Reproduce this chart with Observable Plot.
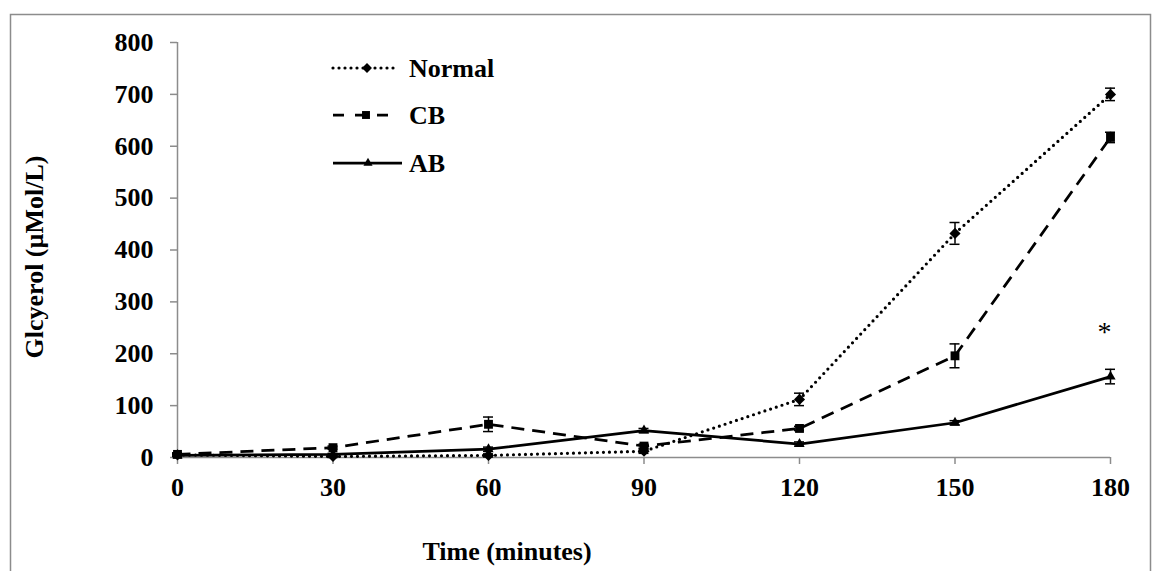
<!DOCTYPE html>
<html>
<head>
<meta charset="utf-8">
<script src="https://cdn.jsdelivr.net/npm/d3@7"></script>
<script src="https://cdn.jsdelivr.net/npm/@observablehq/plot@0.6"></script>
<style>
  html, body { margin: 0; padding: 0; background: #fff; }
  #chart { width: 1152px; height: 571px; }
</style>
</head>
<body>
<div id="chart"></div>
<script>
// ---- data ----
const times = [0, 30, 60, 90, 120, 150, 180];
const normal = [5, 2, 4, 12, 112, 432, 700];
const cb = [6, 19, 64, 22, 56, 196, 617];
const ab = [4, 6, 16, 52, 26, 67, 156];
const normalErr = [3, 2, 3, 4, 12, 21, 12];
const cbErr = [3, 3, 14, 4, 4, 23, 10];
const abErr = [2, 2, 4, 4, 4, 4, 14];
const seriesNames = ["Normal", "CB", "AB"];
const xTicks = [0, 30, 60, 90, 120, 150, 180];
const yTicks = [0, 100, 200, 300, 400, 500, 600, 700, 800];
const starPoint = [{t: 180, v: 252, label: "*"}];
const yTitle = "Glcyerol (\u00b5Mol/L)";
const xTitle = "Time (minutes)";

// ---- styles ----
const styles = {
  Normal: {dash: "0 6", cap: "round", width: 3.2, symbol: "diamond2", r: 5, d3sym: d3.symbolDiamond2},
  CB: {dash: "13 8", cap: "butt", width: 2.75, symbol: "square", r: 5, d3sym: d3.symbolSquare},
  AB: {dash: null, cap: "butt", width: 2.75, symbol: "triangle", r: 3.8, d3sym: d3.symbolTriangle}
};

const valuesBy = {Normal: normal, CB: cb, AB: ab};
const errBy = {Normal: normalErr, CB: cbErr, AB: abErr};
const rows = {};
for (const s of seriesNames) {
  rows[s] = times.map((t, i) => ({
    t, v: valuesBy[s][i],
    lo: valuesBy[s][i] - errBy[s][i],
    hi: valuesBy[s][i] + errBy[s][i]
  }));
}

const FONT = "'Liberation Serif', 'Times New Roman', serif";
const AXIS = "#8c8c8c";

const marks = [
  Plot.ruleY([0], {stroke: AXIS, strokeWidth: 1.5}),
  Plot.ruleX([0], {stroke: AXIS, strokeWidth: 1.5}),
  Plot.axisX({ticks: xTicks, tickSize: 7, tickPadding: 13, stroke: AXIS, strokeWidth: 1.5,
    fill: "black", fontSize: 26, fontWeight: "bold", tickFormat: d => String(d), label: null}),
  Plot.axisY({ticks: yTicks, tickSize: 7, tickPadding: 17, stroke: AXIS, strokeWidth: 1.5,
    fill: "black", fontSize: 26, fontWeight: "bold", tickFormat: d => String(d), label: null})
];

for (const s of seriesNames) {
  const st = styles[s];
  marks.push(Plot.line(rows[s], {x: "t", y: "v", stroke: "black", strokeWidth: st.width,
    strokeDasharray: st.dash || undefined, strokeLinecap: st.cap, strokeLinejoin: "round"}));
}
for (const s of seriesNames) {
  marks.push(Plot.ruleX(rows[s], {x: "t", y1: "lo", y2: "hi", stroke: "black", strokeWidth: 1.5}));
  marks.push(Plot.ruleY(rows[s], {y: "lo", x1: "t", x2: "t", insetLeft: -5, insetRight: -5, stroke: "black", strokeWidth: 1.5}));
  marks.push(Plot.ruleY(rows[s], {y: "hi", x1: "t", x2: "t", insetLeft: -5, insetRight: -5, stroke: "black", strokeWidth: 1.5}));
}
for (const s of seriesNames) {
  const st = styles[s];
  marks.push(Plot.dot(rows[s], {x: "t", y: "v", symbol: st.symbol, r: st.r, fill: "black", stroke: "none"}));
}
marks.push(Plot.text(starPoint, {x: "t", y: "v", text: "label", fontSize: 28, fontWeight: "normal",
  fill: "black", dx: -6, dy: 5, fontFamily: FONT}));

const chart = Plot.plot({
  width: 1152,
  height: 571,
  marginLeft: 177,
  marginRight: 42,
  marginTop: 42,
  marginBottom: 114,
  style: {fontFamily: FONT, fontSize: "26px", fontWeight: "bold", color: "black", background: "white", overflow: "visible"},
  x: {domain: [0, 180], label: null},
  y: {domain: [0, 800], label: null},
  marks
});

const svg = d3.select(chart);

// outer border (top, left, right)
svg.insert("path", ":first-child")
  .attr("d", "M10.5,571 V14.5 H1150.5 V571")
  .attr("fill", "none").attr("stroke", AXIS).attr("stroke-width", 1.5);

// axis titles
svg.append("text")
  .attr("transform", "translate(43,257) rotate(-90)")
  .attr("text-anchor", "middle")
  .attr("font-family", FONT).attr("font-size", 26).attr("font-weight", "bold").attr("fill", "black")
  .text(yTitle);
svg.append("text")
  .attr("x", 507).attr("y", 560)
  .attr("text-anchor", "middle")
  .attr("font-family", FONT).attr("font-size", 26).attr("font-weight", "bold").attr("fill", "black")
  .text(xTitle);

// legend
const legendRows = [
  {name: "Normal", y: 68, x1: 333, x2: 398, mx: 367, dash: "0 6"},
  {name: "CB", y: 115, x1: 333, x2: 391, mx: 366, dash: "11 11"},
  {name: "AB", y: 163, x1: 333, x2: 402, mx: 368, dash: null}
];
const lg = svg.append("g").attr("text-anchor", "start");
for (const row of legendRows) {
  const st = styles[row.name];
  const ln = lg.append("line")
    .attr("x1", row.x1).attr("x2", row.x2).attr("y1", row.y).attr("y2", row.y)
    .attr("stroke", "black").attr("stroke-width", st.width).attr("stroke-linecap", st.cap);
  if (row.dash) ln.attr("stroke-dasharray", row.dash);
  lg.append("path")
    .attr("transform", `translate(${row.mx},${row.y})`)
    .attr("d", d3.symbol(st.d3sym, Math.PI * st.r * st.r * 0.8)())
    .attr("fill", "black");
  lg.append("text")
    .attr("x", 409).attr("y", row.y + 9)
    .attr("text-anchor", "start")
    .attr("font-family", FONT).attr("font-size", 26).attr("font-weight", "bold").attr("fill", "black")
    .text(row.name);
}

document.getElementById("chart").appendChild(chart);
</script>
</body>
</html>
